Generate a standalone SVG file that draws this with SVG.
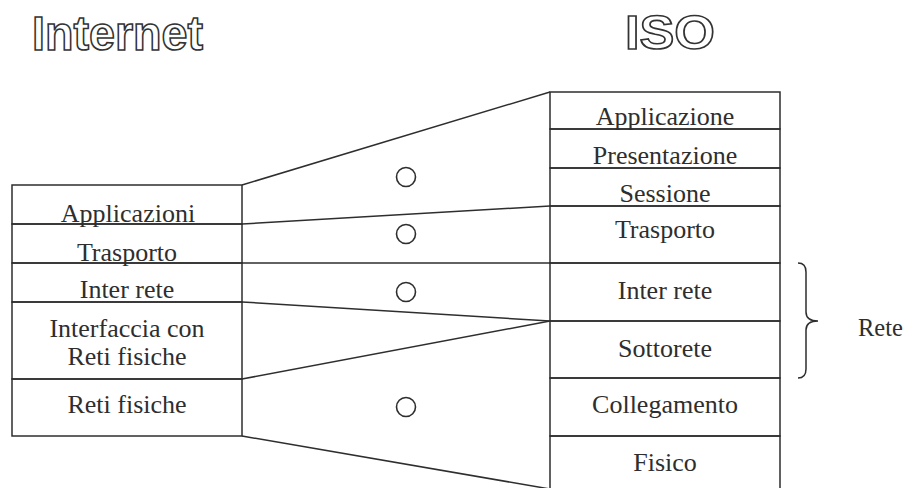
<svg xmlns="http://www.w3.org/2000/svg" width="909" height="488" viewBox="0 0 909 488">
  <style>
    .box { fill: none; stroke: #2e2e2e; stroke-width: 1.5; }
    .lbl { font-family: "Liberation Serif", "Times New Roman", serif; font-size: 26px; fill: #2e2e2e; text-anchor: middle; }
    .side { font-family: "Liberation Serif", "Times New Roman", serif; font-size: 24.5px; fill: #2e2e2e; }
    .title { font-family: "Liberation Sans", Arial, sans-serif; font-weight: bold; font-size: 48px; fill: #fff; stroke: #333; stroke-width: 1.6; }
    .conn { fill: none; stroke: #2e2e2e; stroke-width: 1.5; }
    .eq { fill: none; stroke: #2e2e2e; stroke-width: 1.6; }
  </style>
  <rect width="909" height="488" fill="#fff"/>

  <!-- stack titles -->
  <text class="title" x="32" y="50" textLength="171" lengthAdjust="spacingAndGlyphs">Internet</text>
  <text class="title" x="625" y="49" textLength="90" lengthAdjust="spacingAndGlyphs">ISO</text>

  <!-- Internet stack -->
  <g id="inet-applicazioni">
    <rect class="box" x="12" y="185" width="230" height="39"/>
    <text class="lbl" x="128" y="222">Applicazioni</text>
  </g>
  <g id="inet-trasporto">
    <rect class="box" x="12" y="224" width="230" height="39"/>
    <text class="lbl" x="127" y="261">Trasporto</text>
  </g>
  <g id="inet-interrete">
    <rect class="box" x="12" y="263" width="230" height="39"/>
    <text class="lbl" x="127" y="298">Inter rete</text>
  </g>
  <g id="inet-interfaccia">
    <rect class="box" x="12" y="302" width="230" height="77"/>
    <text class="lbl" x="127" y="337">Interfaccia con</text>
    <text class="lbl" x="127" y="365">Reti fisiche</text>
  </g>
  <g id="inet-retifisiche">
    <rect class="box" x="12" y="379" width="230" height="57"/>
    <text class="lbl" x="127" y="413">Reti fisiche</text>
  </g>

  <!-- ISO stack -->
  <g id="iso-applicazione">
    <rect class="box" x="550" y="92" width="230" height="37"/>
    <text class="lbl" x="665" y="125">Applicazione</text>
  </g>
  <g id="iso-presentazione">
    <rect class="box" x="550" y="129" width="230" height="39"/>
    <text class="lbl" x="665" y="164">Presentazione</text>
  </g>
  <g id="iso-sessione">
    <rect class="box" x="550" y="168" width="230" height="38"/>
    <text class="lbl" x="665" y="202">Sessione</text>
  </g>
  <g id="iso-trasporto">
    <rect class="box" x="550" y="206" width="230" height="57"/>
    <text class="lbl" x="665" y="238">Trasporto</text>
  </g>
  <g id="iso-interrete">
    <rect class="box" x="550" y="263" width="230" height="58"/>
    <text class="lbl" x="665" y="299">Inter rete</text>
  </g>
  <g id="iso-sottorete">
    <rect class="box" x="550" y="321" width="230" height="57"/>
    <text class="lbl" x="665" y="357">Sottorete</text>
  </g>
  <g id="iso-collegamento">
    <rect class="box" x="550" y="378" width="230" height="58"/>
    <text class="lbl" x="665" y="413">Collegamento</text>
  </g>
  <g id="iso-fisico">
    <rect class="box" x="550" y="436" width="230" height="60"/>
    <text class="lbl" x="665" y="471">Fisico</text>
  </g>

  <!-- correspondence lines and equivalence marks -->
  <g id="connectors">
    <line class="conn" x1="242" y1="185" x2="550" y2="92"/>
    <line class="conn" x1="242" y1="224" x2="550" y2="206"/>
    <line class="conn" x1="242" y1="263" x2="550" y2="263"/>
    <line class="conn" x1="242" y1="302" x2="550" y2="321"/>
    <line class="conn" x1="242" y1="379" x2="550" y2="321"/>
    <line class="conn" x1="242" y1="436" x2="550" y2="489"/>
    <circle class="eq" cx="406" cy="177" r="9.5"/>
    <circle class="eq" cx="406" cy="234" r="9.5"/>
    <circle class="eq" cx="406" cy="292" r="9.5"/>
    <circle class="eq" cx="406" cy="407" r="9.5"/>
  </g>

  <!-- brace grouping Inter rete + Sottorete -->
  <g id="rete">
    <path class="conn" d="M798,263 Q806,263 806,272 L806,312 Q806,321 818,321 Q806,321 806,330 L806,369 Q806,378 798,378"/>
    <text class="side" x="858" y="336">Rete</text>
  </g>
</svg>
